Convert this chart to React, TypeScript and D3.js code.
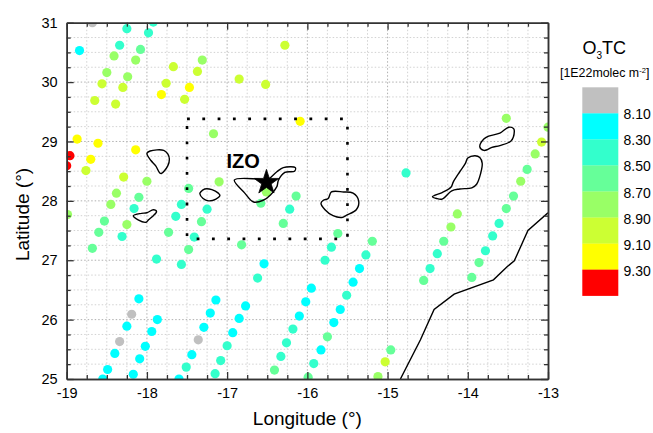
import React, { useEffect, useRef } from "react";
import * as d3 from "d3";

const FONT = "'Liberation Sans', Arial, sans-serif";

const legendBreaks = [8.1, 8.3, 8.5, 8.7, 8.9, 9.1, 9.3];
const legendColors = ["#c0c0c0", "#00ffff", "#33ffcc", "#66ff99", "#99ff66", "#ccff33", "#ffff00", "#ff0000"];

const xMajor = [-19, -18, -17, -16, -15, -14, -13];
const yMajor = [25, 26, 27, 28, 29, 30, 31];

// lon, lat, O3TC (1E22 molec m-2)
const soundings: [number, number, number][] = [
  [-18.68, 31.0, 8.0], [-18.25, 30.9, 8.4], [-17.92, 31.01, 8.4], [-17.98, 30.83, 8.4],
  [-18.84, 30.53, 8.2], [-18.34, 30.62, 8.4], [-18.08, 30.55, 8.6], [-18.41, 30.44, 8.8],
  [-18.14, 30.37, 8.8], [-18.5, 30.16, 8.8], [-18.24, 30.09, 8.8], [-18.56, 29.97, 9.0],
  [-18.3, 29.91, 9.0], [-18.65, 29.69, 9.0], [-18.39, 29.63, 9.0], [-17.67, 30.26, 9.0],
  [-17.76, 29.98, 9.0], [-17.82, 29.79, 9.2], [-17.47, 29.91, 9.2], [-17.53, 29.71, 9.0],
  [-17.37, 30.18, 9.0], [-17.31, 30.37, 8.8], [-16.85, 30.05, 9.0], [-16.52, 29.96, 9.0],
  [-17.17, 29.13, 8.8], [-18.87, 29.04, 9.2], [-18.61, 28.97, 9.2], [-18.14, 28.86, 9.2],
  [-18.96, 28.76, 9.4], [-19.0, 28.59, 9.4], [-18.7, 28.7, 9.2], [-18.76, 28.51, 9.0],
  [-18.29, 28.4, 9.0], [-18.0, 28.33, 8.8], [-18.38, 28.13, 8.8], [-18.1, 28.06, 8.6],
  [-18.45, 27.94, 8.8], [-18.16, 27.87, 8.4], [-17.48, 28.21, 8.6], [-17.57, 27.94, 8.4],
  [-17.25, 27.86, 8.4], [-17.1, 28.32, 8.8], [-16.58, 27.96, 8.6], [-16.51, 28.15, 8.8],
  [-16.28, 30.62, 9.0], [-16.09, 29.34, 9.2], [-14.77, 28.47, 8.4], [-13.52, 29.39, 8.8],
  [-13.0, 29.24, 8.8], [-13.08, 28.99, 9.0], [-13.16, 28.79, 8.8], [-13.26, 28.53, 8.6],
  [-13.34, 28.33, 8.8], [-13.43, 28.08, 8.6], [-13.52, 27.87, 8.6], [-16.14, 28.08, 8.6],
  [-16.22, 27.86, 8.4], [-18.99, 27.77, 8.8], [-18.53, 27.66, 8.6], [-18.6, 27.47, 8.6],
  [-18.68, 27.2, 8.6], [-18.25, 27.6, 8.8], [-18.31, 27.4, 8.4], [-17.64, 27.74, 8.4],
  [-17.73, 27.47, 8.6], [-17.32, 27.65, 8.6], [-17.41, 27.39, 8.4], [-17.48, 27.18, 8.6],
  [-17.57, 26.93, 8.4], [-17.88, 27.02, 8.4], [-16.82, 27.26, 8.6], [-16.54, 26.94, 8.2],
  [-16.62, 26.7, 8.4], [-18.1, 26.35, 8.2], [-18.19, 26.09, 8.0], [-17.87, 26.0, 8.2],
  [-18.25, 25.89, 8.2], [-17.94, 25.8, 8.2], [-18.34, 25.63, 8.0], [-18.02, 25.55, 8.2],
  [-18.4, 25.43, 8.2], [-18.09, 25.34, 8.2], [-18.49, 25.16, 8.2], [-18.17, 25.08, 8.2],
  [-18.55, 25.0, 8.2], [-17.6, 25.0, 8.2], [-17.14, 26.33, 8.2], [-17.21, 26.11, 8.2],
  [-17.29, 25.87, 8.2], [-17.36, 25.66, 8.0], [-17.44, 25.41, 8.2], [-17.51, 25.2, 8.4],
  [-16.77, 26.23, 8.2], [-16.85, 26.02, 8.2], [-16.93, 25.78, 8.2], [-17.0, 25.56, 8.4],
  [-17.08, 25.31, 8.4], [-17.15, 25.09, 8.4], [-16.41, 25.15, 8.6], [-16.33, 25.38, 8.4],
  [-16.3, 27.62, 8.6], [-15.62, 27.45, 8.6], [-15.7, 27.22, 8.4], [-15.78, 27.0, 8.4],
  [-15.19, 27.32, 8.6], [-15.27, 27.09, 8.4], [-15.35, 26.86, 8.2], [-15.43, 26.63, 8.2],
  [-15.51, 26.41, 8.4], [-15.59, 26.17, 8.2], [-15.67, 25.95, 8.2], [-15.75, 25.71, 8.6],
  [-15.83, 25.49, 8.2], [-15.92, 25.26, 8.4], [-15.99, 25.03, 8.6], [-15.95, 26.53, 8.2],
  [-16.02, 26.3, 8.2], [-16.1, 26.06, 8.2], [-16.18, 25.84, 8.4], [-16.26, 25.61, 8.4],
  [-14.96, 25.49, 8.6], [-15.03, 25.29, 9.0], [-15.12, 25.04, 8.8], [-14.13, 27.78, 8.8],
  [-14.21, 27.56, 8.8], [-14.3, 27.32, 8.6], [-14.38, 27.11, 8.4], [-14.47, 26.86, 8.4],
  [-14.55, 26.66, 8.6], [-13.61, 27.62, 8.4], [-13.69, 27.41, 8.4], [-13.78, 27.16, 8.4],
  [-13.86, 26.96, 8.6], [-13.95, 26.71, 8.6],
];

const laPalma: [number, number][] = [
  [-18.0, 28.8], [-17.96, 28.84], [-17.79, 28.85], [-17.74, 28.79], [-17.72, 28.7],
  [-17.74, 28.59], [-17.82, 28.46], [-17.84, 28.47], [-17.89, 28.59], [-17.95, 28.68],
];
const laGomera: [number, number][] = [
  [-17.33, 28.15], [-17.28, 28.2], [-17.19, 28.19], [-17.11, 28.13], [-17.09, 28.09],
  [-17.14, 28.03], [-17.23, 28.0], [-17.3, 28.04], [-17.34, 28.12],
];
const elHierro: [number, number][] = [
  [-18.17, 27.75], [-18.07, 27.79], [-18.0, 27.8], [-17.92, 27.85], [-17.88, 27.82],
  [-17.92, 27.75], [-17.98, 27.68], [-18.01, 27.64], [-18.11, 27.68],
];
const tenerife: [number, number][] = [
  [-16.91, 28.35], [-16.63, 28.37], [-16.51, 28.35], [-16.38, 28.49], [-16.3, 28.56],
  [-16.15, 28.56], [-16.16, 28.5], [-16.28, 28.48], [-16.36, 28.35], [-16.38, 28.24],
  [-16.46, 28.1], [-16.55, 28.01], [-16.67, 27.98], [-16.78, 28.13],
];
const granCanaria: [number, number][] = [
  [-15.7, 28.15], [-15.55, 28.15], [-15.43, 28.13], [-15.36, 28.0], [-15.39, 27.85],
  [-15.51, 27.76], [-15.57, 27.72], [-15.68, 27.75], [-15.78, 27.85], [-15.83, 27.96],
  [-15.8, 28.01], [-15.74, 28.04],
];
const fuerteventura: [number, number][] = [
  [-14.44, 28.07], [-14.32, 28.14], [-14.21, 28.23], [-14.18, 28.32], [-14.1, 28.49],
  [-14.03, 28.63], [-14.0, 28.72], [-13.91, 28.76], [-13.85, 28.73], [-13.82, 28.63],
  [-13.84, 28.46], [-13.89, 28.28], [-13.95, 28.22], [-14.1, 28.2], [-14.2, 28.17],
  [-14.32, 28.03], [-14.39, 28.04],
];
const lanzarote: [number, number][] = [
  [-13.85, 28.91], [-13.8, 29.04], [-13.74, 29.09], [-13.6, 29.14], [-13.49, 29.24],
  [-13.43, 29.22], [-13.42, 29.17], [-13.46, 29.01], [-13.6, 28.93], [-13.7, 28.9],
  [-13.76, 28.86], [-13.8, 28.85],
];
const africaCoast: [number, number][] = [
  [-14.84, 25.0], [-14.59, 25.66], [-14.42, 26.17], [-14.17, 26.43], [-13.68, 26.67],
  [-13.51, 26.89], [-13.42, 26.99], [-13.25, 27.5], [-13.0, 27.8],
];
const islands = [laPalma, laGomera, elHierro, tenerife, granCanaria, fuerteventura, lanzarote];

// study box and the IZO site
const boxLon = [-17.5, -15.5];
const boxLat = [27.36, 29.38];
const izo: [number, number] = [-16.51, 28.31];

const App = () => {
  const svgRef = useRef<SVGSVGElement>(null);

  useEffect(() => {
    const svg = d3.select(svgRef.current);
    svg.selectAll("*").remove();
    const width = 653;
    const height = 433;
    const left = 66.7, right = 548, top = 22.7, bottom = 379;
    svg.attr("width", width).attr("height", height).style("font-family", FONT);

    const x = d3.scaleLinear().domain([-19, -13]).range([left, right]);
    const y = d3.scaleLinear().domain([25, 31]).range([bottom, top]);
    const color = d3.scaleThreshold<number, string>().domain(legendBreaks).range(legendColors);

    const xMinor = d3.range(-19, -12.9, 0.25).filter((v) => !xMajor.includes(v));
    const yMinor = d3.range(25, 31.1, 0.25).filter((v) => !yMajor.includes(v));

    svg.append("defs").append("clipPath").attr("id", "plot")
      .append("rect").attr("x", left).attr("y", top).attr("width", right - left).attr("height", bottom - top);

    // Grid
    const grid = svg.append("g").attr("fill", "none");
    const gridLines = (vals: number[], vertical: boolean, stroke: string) => {
      grid.selectAll(null).data(vals).enter().append("line")
        .attr("x1", (d) => (vertical ? x(d) : left))
        .attr("x2", (d) => (vertical ? x(d) : right))
        .attr("y1", (d) => (vertical ? top : y(d)))
        .attr("y2", (d) => (vertical ? bottom : y(d)))
        .attr("stroke", stroke)
        .attr("stroke-width", 1)
        .attr("stroke-dasharray", "1.5 2");
    };
    gridLines(xMinor, true, "#d2d2d2");
    gridLines(yMinor, false, "#d2d2d2");
    gridLines(xMajor.slice(1, -1), true, "#b0b0b0");
    gridLines(yMajor.slice(1, -1), false, "#b0b0b0");

    const plot = svg.append("g").attr("clip-path", "url(#plot)");

    // Soundings
    plot.selectAll("circle").data(soundings).enter().append("circle")
      .attr("cx", (d) => x(d[0]))
      .attr("cy", (d) => y(d[1]))
      .attr("r", 4.6)
      .attr("fill", (d) => color(d[2]));

    // Coast lines
    const line = d3.line<[number, number]>().x((d) => x(d[0])).y((d) => y(d[1]));
    const closed = d3.line<[number, number]>().x((d) => x(d[0])).y((d) => y(d[1])).curve(d3.curveCatmullRomClosed.alpha(0.5));
    plot.selectAll(".island").data(islands).enter().append("path")
      .attr("class", "island")
      .attr("d", (d) => closed(d))
      .attr("fill", "none")
      .attr("stroke", "#000")
      .attr("stroke-width", 1.4)
      .attr("stroke-linejoin", "round");
    plot.append("path").datum(africaCoast)
      .attr("d", line)
      .attr("fill", "none")
      .attr("stroke", "#000")
      .attr("stroke-width", 1.4);

    // Study box
    svg.append("rect")
      .attr("x", x(boxLon[0]))
      .attr("y", y(boxLat[1]))
      .attr("width", x(boxLon[1]) - x(boxLon[0]))
      .attr("height", y(boxLat[0]) - y(boxLat[1]))
      .attr("fill", "none")
      .attr("stroke", "#000")
      .attr("stroke-width", 2.6)
      .attr("stroke-dasharray", "2.8 12.5");

    // IZO
    svg.append("path")
      .attr("d", d3.symbol().type(d3.symbolStar).size(190)())
      .attr("transform", `translate(${x(izo[0])},${y(izo[1])})`)
      .attr("fill", "#000")
      .attr("stroke", "#000")
      .attr("stroke-width", 0.8);
    svg.append("text")
      .attr("x", x(izo[0]) - 40)
      .attr("y", y(izo[1]) - 14)
      .attr("font-size", 20)
      .attr("font-weight", "bold")
      .text("IZO");

    // Axes
    const axisColor = "#333";
    const addAxis = (axis: any, transform: string, vals: number[], size: number, labels: boolean) => {
      const g = svg.append("g").attr("transform", transform)
        .call(
          axis.tickValues(vals).tickSize(-size).tickSizeOuter(0).tickPadding(9)
            .tickFormat(labels ? (d: number) => String(d) : () => "")
        );
      g.select(".domain").attr("stroke", axisColor).attr("stroke-width", 1.5);
      g.selectAll("line").attr("stroke", axisColor).attr("stroke-width", 1.3);
      g.selectAll("text").attr("font-size", 14.5).attr("font-family", FONT).attr("fill", "#000");
    };
    const bottomT = `translate(0,${bottom})`;
    const topT = `translate(0,${top})`;
    const leftT = `translate(${left},0)`;
    const rightT = `translate(${right},0)`;
    addAxis(d3.axisBottom(x), bottomT, xMinor, 4, false);
    addAxis(d3.axisBottom(x), bottomT, xMajor, 7, true);
    addAxis(d3.axisTop(x), topT, xMinor, 4, false);
    addAxis(d3.axisTop(x), topT, xMajor, 7, false);
    addAxis(d3.axisLeft(y), leftT, yMinor, 4, false);
    addAxis(d3.axisLeft(y), leftT, yMajor, 7, true);
    addAxis(d3.axisRight(y), rightT, yMinor, 4, false);
    addAxis(d3.axisRight(y), rightT, yMajor, 7, false);

    // Axis titles
    svg.append("text")
      .attr("x", (left + right) / 2)
      .attr("y", 425)
      .attr("text-anchor", "middle")
      .attr("font-size", 19)
      .text("Longitude (°)");
    svg.append("text")
      .attr("transform", `translate(28.5,214.5) rotate(-90)`)
      .attr("text-anchor", "middle")
      .attr("font-size", 19)
      .text("Latitude (°)");

    // Legend
    const legendX = 582.3, legendTop = 87.3, legendW = 36;
    const legendStep = d3.scaleLinear().domain([0, legendColors.length]).range([legendTop, 295.7]);
    const legend = svg.append("g");
    legend.selectAll("rect").data(legendColors).enter().append("rect")
      .attr("x", legendX)
      .attr("y", (_, i) => legendStep(i))
      .attr("width", legendW)
      .attr("height", legendStep(1) - legendStep(0) + 0.2)
      .attr("fill", (d) => d);
    legend.selectAll("text").data(legendBreaks).enter().append("text")
      .attr("x", 623.5)
      .attr("y", (_, i) => legendStep(i + 1) + 6)
      .attr("font-size", 14)
      .text((d) => d.toFixed(2));

    const title = svg.append("text").attr("x", 582.5).attr("y", 54).attr("font-size", 18);
    title.append("tspan").text("O");
    title.append("tspan").attr("font-size", 10).attr("dy", 5).text("3");
    title.append("tspan").attr("dy", -5).text("TC");

    const unit = svg.append("text").attr("x", 560).attr("y", 77).attr("font-size", 12.4);
    unit.append("tspan").text("[1E22molec m");
    unit.append("tspan").attr("font-size", 7.5).attr("dy", -4.5).text("-2");
    unit.append("tspan").attr("dy", 4.5).text("]");
  }, []);

  return <svg ref={svgRef} style={{ position: "absolute", left: 0, top: 0, display: "block", background: "#fff" }} />;
};

export default App;
